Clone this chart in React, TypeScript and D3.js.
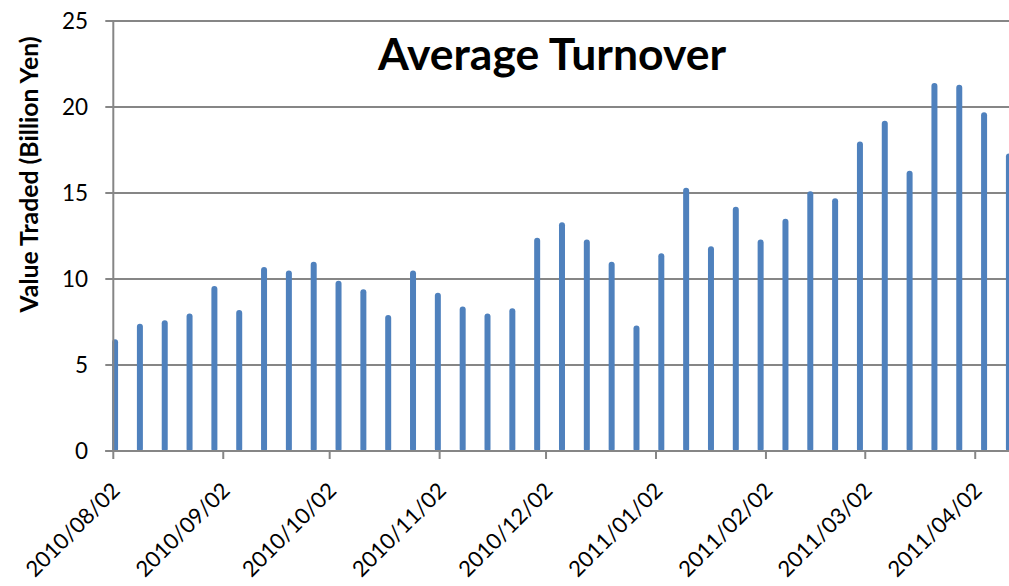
import React from 'react';
import * as d3 from 'd3';

// weekly observations (week starting Monday)
const weeks = [
  '2010-08-02', '2010-08-09', '2010-08-16', '2010-08-23', '2010-08-30',
  '2010-09-06', '2010-09-13', '2010-09-20', '2010-09-27',
  '2010-10-04', '2010-10-11', '2010-10-18', '2010-10-25',
  '2010-11-01', '2010-11-08', '2010-11-15', '2010-11-22', '2010-11-29',
  '2010-12-06', '2010-12-13', '2010-12-20', '2010-12-27',
  '2011-01-03', '2011-01-10', '2011-01-17', '2011-01-24', '2011-01-31',
  '2011-02-07', '2011-02-14', '2011-02-21', '2011-02-28',
  '2011-03-07', '2011-03-14', '2011-03-21', '2011-03-28',
  '2011-04-04', '2011-04-11',
];

// value traded, billion yen
const turnover = [
  6.5, 7.4, 7.6, 8.0, 9.6,
  8.2, 10.7, 10.5, 11.0,
  9.9, 9.4, 7.9, 10.5,
  9.2, 8.4, 8.0, 8.3, 12.4,
  13.3, 12.3, 11.0, 7.3,
  11.5, 15.3, 11.9, 14.2, 12.3,
  13.5, 15.1, 14.7, 18.0,
  19.2, 16.3, 21.4, 21.3,
  19.7, 17.3,
];

const monthTicks = [
  '2010-08-02', '2010-09-02', '2010-10-02', '2010-11-02', '2010-12-02',
  '2011-01-02', '2011-02-02', '2011-03-02', '2011-04-02',
];

const yTicks = [0, 5, 10, 15, 20, 25];

const W = 1009;
const H = 586;
const FONT = 'Lato, "Open Sans", sans-serif';
const GRID = '#868686';
const BAR = '#4F81BD';

const parse = (s: string) => new Date(s + 'T00:00:00Z');
const fmt = d3.utcFormat('%Y/%m/%d');

export default function App() {
  const x0 = 113.3;
  const dayPx = 3.547;
  const start = parse('2010-08-02');
  const end = parse('2011-04-14');
  const nDays = (end.getTime() - start.getTime()) / 864e5;

  const x = d3.scaleUtc().domain([start, end]).range([x0, x0 + nDays * dayPx]);
  const y = d3.scaleLinear().domain([0, 25]).range([451, 21]);

  const halfDay = 12 * 3600 * 1000;
  const xRight = x.range()[1];

  return (
    <svg
      width={W}
      height={H}
      style={{ position: 'absolute', left: 0, top: 0, background: '#fff' }}
      fontFamily={FONT}
    >
      {/* gridlines + y ticks */}
      {yTicks.map(t => (
        <line key={t} x1={x0 - 8} x2={xRight} y1={y(t)} y2={y(t)} stroke={GRID} strokeWidth={2} />
      ))}
      {yTicks.map(t => (
        <text key={'l' + t} x={88} y={y(t)} dy="0.36em" textAnchor="end" fontSize={22.5} fill="#000">
          {t}
        </text>
      ))}

      {/* bars */}
      {weeks.map((w, i) => {
        const cx = x(new Date(parse(w).getTime() + halfDay));
        return (
          <rect
            key={w}
            x={cx - 3}
            y={y(turnover[i])}
            width={6}
            height={y(0) - y(turnover[i]) + 1}
            rx={3}
            fill={BAR}
          />
        );
      })}

      {/* axes */}
      <line x1={x0} x2={x0} y1={y(25)} y2={y(0)} stroke={GRID} strokeWidth={2} />
      <line x1={x0 - 8} x2={xRight} y1={y(0)} y2={y(0)} stroke={GRID} strokeWidth={2} />
      {monthTicks.map(m => {
        const tx = x(parse(m));
        return (
          <g key={m}>
            <line x1={tx} x2={tx} y1={y(0)} y2={y(0) + 8} stroke={GRID} strokeWidth={2} />
            <text
              transform={`translate(${tx + 8},492) rotate(-45)`}
              textAnchor="end"
              fontSize={22}
              fill="#000"
            >
              {fmt(parse(m))}
            </text>
          </g>
        );
      })}

      {/* titles */}
      <text x={552} y={70} textAnchor="middle" fontSize={44.5} fontWeight="bold" fill="#000">
        Average Turnover
      </text>
      <text
        transform="translate(38,174.5) rotate(-90)"
        textAnchor="middle"
        fontSize={24.8}
        fontWeight="bold"
        fill="#000"
      >
        Value Traded (Billion Yen)
      </text>
    </svg>
  );
}
